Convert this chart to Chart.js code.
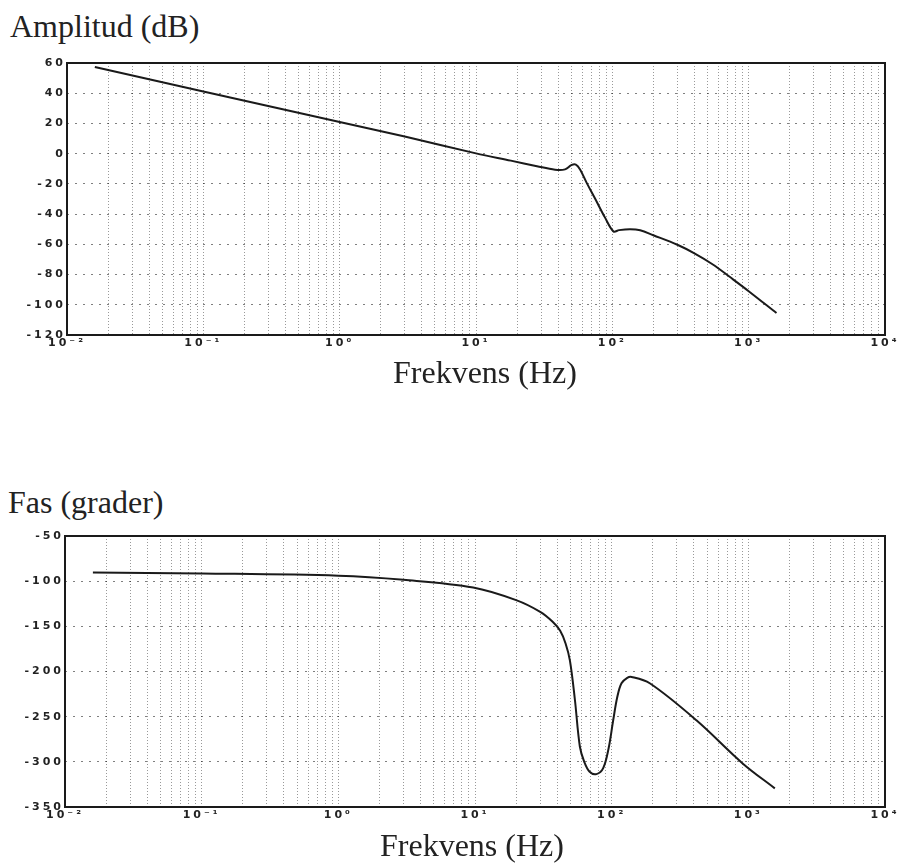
<!DOCTYPE html>
<html>
<head>
<meta charset="utf-8">
<script src="https://cdn.jsdelivr.net/npm/chart.js@4/dist/chart.umd.min.js"></script>
<style>
body{ margin:0; width:901px; height:863px; overflow:hidden; background:#fff; position:relative; }
canvas{ position:absolute; left:0; }
.lbl{ position:absolute; font-family:"Liberation Serif","Times New Roman",serif; font-size:32px; line-height:32px; color:#222; white-space:nowrap; }
</style>
</head>
<body>

<div class="lbl" style="left:10px; top:10px;">Amplitud (dB)</div>
<canvas id="ampChart" width="901" height="360" style="top:0px;"></canvas>
<div class="lbl" style="left:393px; top:356px;">Frekvens (Hz)</div>

<div class="lbl" style="left:8px; top:486px;">Fas (grader)</div>
<canvas id="phaseChart" width="901" height="360" style="top:480px;"></canvas>
<div class="lbl" style="left:380px; top:829px;">Frekvens (Hz)</div>

<script>
// ==========================
// Bode data
// ==========================

const ampFreq = [0.016, 0.1, 1, 3, 10, 18, 28, 38, 45, 50, 54, 58, 65, 75, 88, 102, 112, 135, 160, 200, 300, 400, 550, 725, 1000, 1600];
const ampDb   = [57.3, 41.2, 21, 11.3, 0.2, -4.6, -8.3, -10.6, -10.4, -7.6, -7.2, -10.5, -19.5, -30, -42, -51.5, -50.6, -50, -50.7, -54, -60.3, -66, -73.5, -81.5, -91, -105.5];

const phaseFreq = [0.016, 0.1, 1, 3, 9.7, 20, 30, 37, 42, 46, 49.5, 53.8, 58.5, 63, 69, 77.4, 86.7, 95, 102.6, 110, 118, 130, 140, 190, 417, 913, 1563];
const phaseDeg  = [-90.5, -91.5, -94, -98.5, -107, -121, -134, -145, -155, -169, -188, -231, -283, -300, -311, -313.6, -307, -285, -254, -228, -213, -207, -206, -213, -254, -302, -329.4];

const supers = { "-2":"⁻²", "-1":"⁻¹", "0":"⁰", "1":"¹", "2":"²", "3":"³", "4":"⁴" };


const framePlugin = {
    id:"frame",
    beforeDraw(chart){
        chart.ctx.letterSpacing = "3px";
    },
    afterDraw(chart){
        const a = chart.chartArea;
        const ctx = chart.ctx;
        ctx.save();
        ctx.strokeStyle = "#1a1a1a";
        ctx.lineWidth = 2;
        ctx.strokeRect(a.left, a.top, a.right - a.left, a.bottom - a.top);
        ctx.restore();
    }
};


function makeBode(id, freq, vals, yMin, yMax, step, leftW, bottomH, padTop){

    const tickFont = { family:"DejaVu Sans", size:11, weight:"bold" };

    return new Chart(
        document.getElementById(id),
        {
            type:"line",

            data:{
                datasets:[{
                    data: freq.map((f, i) => ({ x:f, y:vals[i] })),
                    borderColor:"#1a1a1a",
                    borderWidth:2,
                    pointRadius:0,
                    fill:false,
                    tension:0.35
                }]
            },

            options:{
                responsive:false,
                animation:false,
                devicePixelRatio:1,
                layout:{ padding:{ top:padTop, right:16, left:0, bottom:0 } },
                plugins:{ legend:{ display:false }, tooltip:{ enabled:false } },

                scales:{
                    x:{
                        type:"logarithmic",
                        min:0.01,
                        max:10000,
                        afterFit(s){ s.height = bottomH; },
                        afterBuildTicks(s){
                            const t = [];
                            for(let e = -2; e < 4; e++){
                                for(let m = 1; m < 10; m++) t.push({ value: m * Math.pow(10, e) });
                            }
                            t.push({ value:10000 });
                            s.ticks = t;
                        },
                        border:{ display:false, dash:[1,2] },
                        grid:{ color:"rgba(0,0,0,0.4)", drawTicks:false },
                        ticks:{
                            autoSkip:false,
                            maxRotation:0,
                            padding:2,
                            color:"#222",
                            font:tickFont,
                            callback(v){
                                const e = Math.round(Math.log10(v));
                                if(Math.abs(Math.log10(v) - e) > 1e-6) return "";
                                return "10" + supers[String(e)];
                            }
                        }
                    },

                    y:{
                        min:yMin,
                        max:yMax,
                        afterFit(s){ s.width = leftW; },
                        border:{ display:false, dash:[2,6] },
                        grid:{ color:"rgba(0,0,0,0.5)", drawTicks:false },
                        ticks:{
                            stepSize:step,
                            padding:1,
                            color:"#222",
                            font:tickFont
                        }
                    }
                }
            },

            plugins:[framePlugin]
        }
    );

}


makeBode("ampChart", ampFreq, ampDb, -120, 60, 20, 67, 25, 63);

makeBode("phaseChart", phaseFreq, phaseDeg, -350, -50, 50, 65, 33, 56);
</script>
</body>
</html>
